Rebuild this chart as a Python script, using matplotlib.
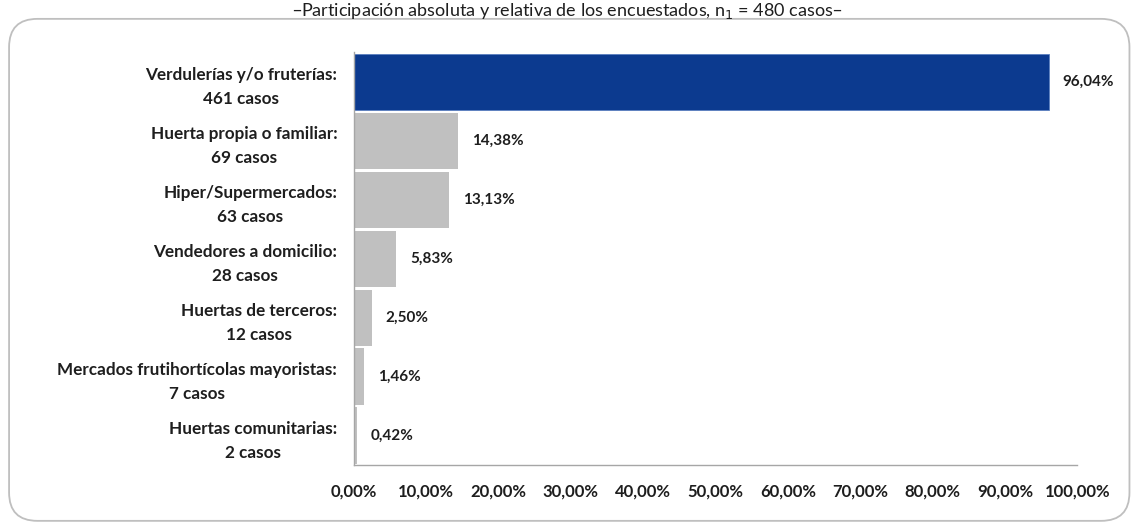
import matplotlib
matplotlib.use("Agg")
from matplotlib import pyplot as plt
from matplotlib.patches import FancyBboxPatch
from matplotlib.ticker import FuncFormatter

# Lugares de compra de frutas y hortalizas
categorias = [
    "Verdulerías y/o fruterías:",
    "Huerta propia o familiar:",
    "Hiper/Supermercados:",
    "Vendedores a domicilio:",
    "Huertas de terceros:",
    "Mercados frutihortícolas mayoristas:",
    "Huertas comunitarias:",
]
casos = [461, 69, 63, 28, 12, 7, 2]
porcentajes = [96.04, 14.38, 13.13, 5.83, 2.50, 1.46, 0.42]
ticks_x = [0, 10, 20, 30, 40, 50, 60, 70, 80, 90, 100]
titulo = "\u2013Participación absoluta y relativa de los encuestados, n$_1$ = 480 casos\u2013"

AZUL = "#0c3a8f"
GRIS = "#c0c0c0"
EJE = "#a6a6a6"
TEXTO = "#1e1e1e"

plt.rcParams["font.family"] = ["Lato", "DejaVu Sans"]

fig = plt.figure(figsize=(11.34, 5.24), dpi=100)

# marco redondeado alrededor del gráfico
marco = FancyBboxPatch((0.008, 0.006), 0.988, 0.958,
                       boxstyle="round,pad=0,rounding_size=0.025",
                       transform=fig.transFigure, facecolor="white",
                       edgecolor="#bfbfbf", linewidth=1.3,
                       mutation_aspect=1134 / 524, zorder=-5)
fig.patches.append(marco)

fig.text(0.5, 0.999, titulo, ha="center", va="top", fontsize=13, color=TEXTO)

ax = fig.add_axes([0.312, 0.1126, 0.638, 0.788])
ax.set_facecolor("none")

y = list(range(len(categorias)))
colores = [AZUL] + [GRIS] * (len(categorias) - 1)
barras = ax.barh(y, porcentajes, height=0.95, color=colores)
barras[0].set_edgecolor("#5b7fc0")
barras[0].set_linewidth(0.6)

for yi, p in zip(y, porcentajes):
    ax.annotate(f"{p:.2f}%".replace(".", ","), (p, yi), xytext=(10, 0),
                textcoords="offset points", ha="left", va="center",
                fontsize=11, fontweight="bold", color=TEXTO)

etiquetas = [f"{c}\n{n} casos" for c, n in zip(categorias, casos)]
ax.set_yticks(y)
ax.set_yticklabels(etiquetas, fontsize=12.3, fontweight="bold", color=TEXTO,
                   multialignment="center", linespacing=1.6)
ax.set_ylim(len(categorias) - 0.5, -0.5)

ax.set_xlim(0, 100)
ax.set_xticks(ticks_x)
ax.xaxis.set_major_formatter(FuncFormatter(lambda v, _: f"{v:.2f}%".replace(".", ",")))
for t in ax.get_xticklabels():
    t.set_fontweight("bold")
    t.set_fontsize(12)
    t.set_color(TEXTO)

ax.tick_params(axis="x", length=0, pad=13)
ax.tick_params(axis="y", length=0, pad=12)
for lado in ("top", "right"):
    ax.spines[lado].set_visible(False)
for lado in ("left", "bottom"):
    ax.spines[lado].set_color(EJE)
    ax.spines[lado].set_linewidth(1.0)

fig.savefig("out.png", dpi=100)
